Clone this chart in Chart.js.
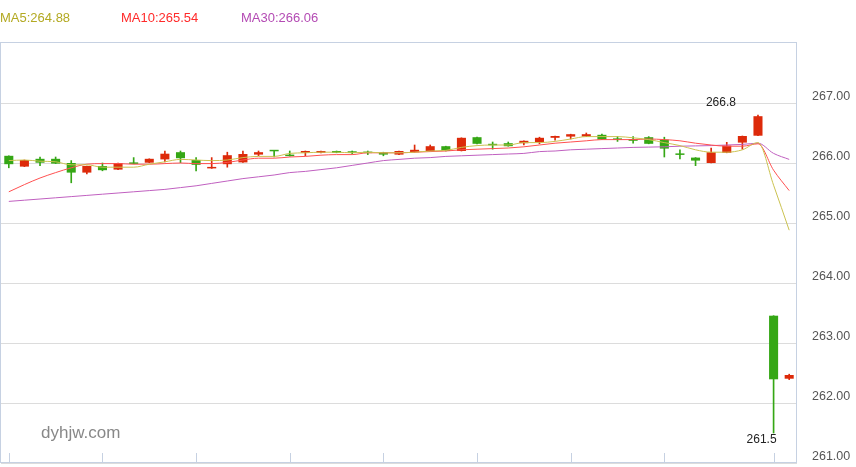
<!DOCTYPE html>
<html>
<head>
<meta charset="utf-8">
<script src="https://cdn.jsdelivr.net/npm/chart.js"></script>
<style>
  html, body { margin: 0; padding: 0; background: #fff; }
  #wrap { position: relative; width: 856px; height: 467px; overflow: hidden; }
  #kline { display: block; }
  .ma { position: absolute; top: 9px; font: 13px "Liberation Sans", Arial, sans-serif; line-height: 18px; white-space: nowrap; }
  #mark { position: absolute; left: 41px; top: 422px; font: 17px "Liberation Sans", Arial, sans-serif; line-height: 22px; color: #888; }
</style>
</head>
<body>
<div id="wrap">
  <canvas id="kline" width="856" height="467"></canvas>
  <div class="ma" id="ma5" style="left:0;color:#b3a922"></div>
  <div class="ma" id="ma10" style="left:121px;color:#ff2a2a"></div>
  <div class="ma" id="ma30" style="left:241px;color:#b44bb4"></div>
  <div id="mark">dyhjw.com</div>
</div>
<script>
const opens = [266.12, 265.94, 266.07, 266.07, 266.00, 265.84, 265.95, 265.89, 265.99, 266.005,
  266.06, 266.18, 266.05, 265.91, 265.98, 266.01, 266.14, 266.20, 266.12, 266.17,
  266.17, 266.20, 266.185, 266.17, 266.18, 266.14, 266.18, 266.20, 266.28, 266.20,
  266.43, 266.30, 266.33, 266.33, 266.35, 266.42, 266.44, 266.44, 266.47, 266.39,
  266.40, 266.43, 266.39, 266.14, 266.09, 266.00, 266.17, 266.34, 266.455, 263.455,
  262.405];
const closes = [265.98, 266.05, 266.005, 265.99, 265.84, 265.95, 265.88, 266.00, 265.985, 266.07,
  266.155, 266.08, 265.97, 265.915, 266.13, 266.15, 266.18, 266.195, 266.115, 266.20,
  266.20, 266.17, 266.17, 266.165, 266.14, 266.20, 266.22, 266.28, 266.20, 266.42,
  266.32, 266.295, 266.28, 266.37, 266.42, 266.45, 266.48, 266.48, 266.39, 266.385,
  266.37, 266.32, 266.24, 266.135, 266.04, 266.18, 266.29, 266.45, 266.78, 262.395,
  262.467];
const highs = [266.12, 266.05, 266.10, 266.10, 266.04, 265.95, 266.00, 266.00, 266.09, 266.07,
  266.20, 266.20, 266.09, 266.09, 266.18, 266.20, 266.20, 266.20, 266.20, 266.20,
  266.20, 266.20, 266.20, 266.20, 266.18, 266.20, 266.30, 266.30, 266.28, 266.42,
  266.43, 266.35, 266.35, 266.37, 266.43, 266.45, 266.48, 266.50, 266.48, 266.44,
  266.44, 266.44, 266.43, 266.22, 266.09, 266.25, 266.345, 266.45, 266.80, 263.455,
  262.48];
const lows = [265.92, 265.94, 265.955, 265.99, 265.67, 265.82, 265.87, 265.89, 265.985, 266.005,
  266.02, 266.005, 265.87, 265.91, 265.93, 266.01, 266.12, 266.10, 266.115, 266.12,
  266.17, 266.17, 266.15, 266.14, 266.12, 266.14, 266.18, 266.20, 266.20, 266.20,
  266.32, 266.23, 266.28, 266.30, 266.32, 266.38, 266.40, 266.44, 266.39, 266.36,
  266.33, 266.32, 266.10, 266.07, 265.955, 266.00, 266.17, 266.23, 266.455, 261.50,
  262.39];

const ma5 = [266.04, 266.05, 266.03, 266.02, 265.97, 265.97, 265.93, 265.93, 265.93, 265.98,
  266.02, 266.06, 266.05, 266.04, 266.05, 266.09, 266.11, 266.11, 266.16, 266.17,
  266.18, 266.18, 266.17, 266.18, 266.17, 266.17, 266.18, 266.20, 266.21, 266.26,
  266.29, 266.30, 266.30, 266.34, 266.34, 266.36, 266.40, 266.44, 266.44, 266.44,
  266.42, 266.39, 266.34, 266.29, 266.22, 266.18, 266.18, 266.22, 266.34, 265.63,
  264.88];
const ma10 = [265.52, 265.64, 265.75, 265.84, 265.92, 265.98, 265.99, 265.99, 265.98, 265.98,
  265.99, 266.00, 265.99, 265.99, 266.01, 266.05, 266.08, 266.08, 266.10, 266.11,
  266.13, 266.14, 266.14, 266.17, 266.17, 266.17, 266.18, 266.19, 266.20, 266.22,
  266.23, 266.24, 266.25, 266.27, 266.30, 266.33, 266.35, 266.37, 266.39, 266.39,
  266.39, 266.40, 266.39, 266.37, 266.33, 266.30, 266.28, 266.28, 266.32, 265.88,
  265.54];
const ma30 = [265.36, 265.38, 265.40, 265.42, 265.44, 265.46, 265.48, 265.50, 265.52, 265.54,
  265.56, 265.59, 265.62, 265.66, 265.70, 265.74, 265.77, 265.80, 265.84, 265.86,
  265.89, 265.92, 265.96, 266.00, 266.04, 266.06, 266.08, 266.09, 266.11, 266.12,
  266.13, 266.14, 266.15, 266.16, 266.19, 266.20, 266.22, 266.23, 266.24, 266.25,
  266.26, 266.265, 266.27, 266.28, 266.285, 266.29, 266.30, 266.31, 266.33, 266.16,
  266.06];

const yTicks = [261, 262, 263, 264, 265, 266, 267];
const xTickIdx = [0, 6, 12, 18, 24, 30, 36, 42, 49];
const categories = opens.map((_, i) => String(i + 1));

const RED = '#dd2a0a';
const GREEN = '#35a715';
const FRAME = '#c6d1e2';

document.getElementById('ma5').textContent = 'MA5:' + ma5[ma5.length - 1].toFixed(2);
document.getElementById('ma10').textContent = 'MA10:' + ma10[ma10.length - 1].toFixed(2);
document.getElementById('ma30').textContent = 'MA30:' + ma30[ma30.length - 1].toFixed(2);

const candleColors = opens.map((o, i) => closes[i] >= o ? RED : GREEN);

// frame, inward x ticks, high/low labels
const decorations = {
  id: 'decorations',
  beforeDatasetsDraw(chart) {
    const { ctx, chartArea: a } = chart;
    const x = chart.scales.x;
    ctx.save();
    ctx.strokeStyle = FRAME;
    ctx.lineWidth = 1;
    ctx.strokeRect(a.left - 0.5, a.top - 0.5, a.right - a.left, a.bottom - a.top);
    ctx.beginPath();
    xTickIdx.forEach(i => {
      const px = Math.round(x.getPixelForValue(i)) + 0.5;
      ctx.moveTo(px, a.bottom - 10);
      ctx.lineTo(px, a.bottom);
    });
    ctx.stroke();
    ctx.restore();
  },
  afterDatasetsDraw(chart) {
    const { ctx } = chart;
    const x = chart.scales.x, y = chart.scales.y;
    const hi = highs.indexOf(Math.max(...highs));
    const lo = lows.indexOf(Math.min(...lows));
    ctx.save();
    ctx.font = '12px "Liberation Sans", Arial, sans-serif';
    ctx.fillStyle = '#222';
    ctx.textBaseline = 'alphabetic';
    ctx.textAlign = 'right';
    ctx.fillText(String(highs[hi]), x.getPixelForValue(hi) - 22, y.getPixelForValue(highs[hi]) - 9);
    ctx.fillText(String(lows[lo]), x.getPixelForValue(lo) + 3, y.getPixelForValue(lows[lo]) + 10);
    ctx.restore();
  }
};

function maLine(label, data, color) {
  return {
    type: 'line',
    label: label,
    data: data,
    borderColor: color,
    borderWidth: 1,
    pointRadius: 0,
    cubicInterpolationMode: 'monotone',
    order: 0
  };
}

new Chart(document.getElementById('kline'), {
  type: 'bar',
  data: {
    labels: categories,
    datasets: [
      maLine('MA5', ma5, '#cbc250'),
      maLine('MA10', ma10, '#ff5050'),
      maLine('MA30', ma30, '#c060c0'),
      {
        label: 'body',
        data: opens.map((o, i) => [o, closes[i]]),
        backgroundColor: candleColors,
        barPercentage: 0.58,
        categoryPercentage: 1,
        grouped: false,
        minBarLength: 1.5,
        order: 1
      },
      {
        label: 'wick',
        data: lows.map((l, i) => [l, highs[i]]),
        backgroundColor: candleColors,
        barThickness: 1,
        grouped: false,
        order: 2
      }
    ]
  },
  options: {
    responsive: false,
    animation: false,
    devicePixelRatio: 1,
    layout: { padding: { top: 43, left: 1, right: 0, bottom: 4 } },
    plugins: { legend: { display: false }, tooltip: { enabled: false } },
    scales: {
      x: { display: false, offset: true },
      y: {
        position: 'right',
        min: 261,
        max: 268,
        afterBuildTicks: s => { s.ticks = yTicks.map(v => ({ value: v })); },
        afterFit: s => { s.width = 59; s.paddingTop = 0; s.paddingBottom = 0; },
        grid: { color: '#dcdcdc', drawTicks: false },
        border: { display: false },
        ticks: {
          padding: 15,
          labelOffset: -6,
          color: '#555',
          font: { family: '"Liberation Sans", Arial, sans-serif', size: 12.5 },
          callback: v => Number(v).toFixed(2)
        }
      }
    }
  },
  plugins: [decorations]
});
</script>
</body>
</html>
